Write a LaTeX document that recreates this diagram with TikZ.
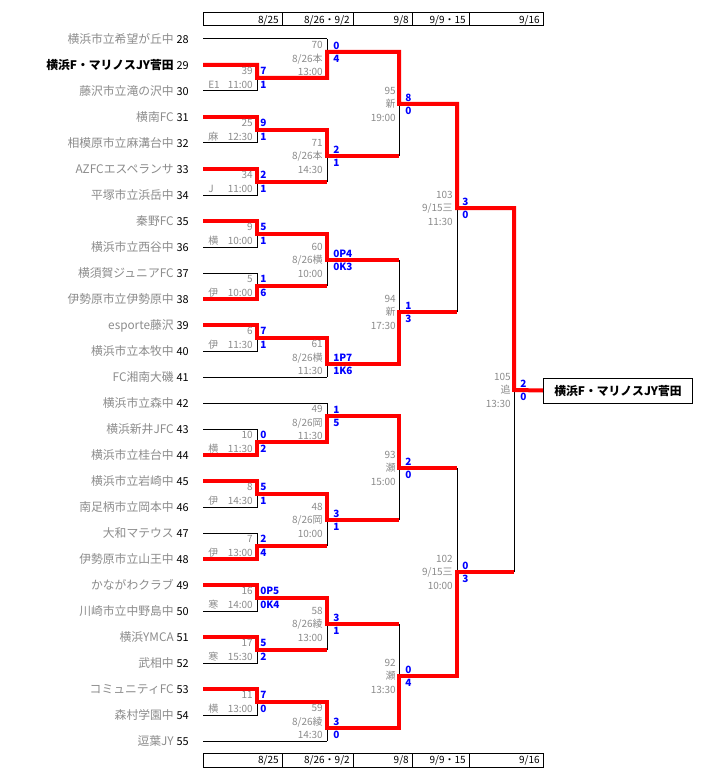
\documentclass[tikz,border=0pt]{standalone}
\usepackage{fontspec}
\setmainfont{Noto Sans CJK JP}
\definecolor{lgray}{RGB}{140,140,140}
\definecolor{wred}{RGB}{255,0,0}
\definecolor{sblue}{RGB}{0,0,255}
\newcommand\tm[4]{%
  \node[tname,#4] (t#3) at (174,#1) {#2};
  \node[tnum] (n#3) at (189,#1) {#3};}
\newcommand\mo[6]{%
  \node[lbl] (r#2a) at (253,#1-7) {#2};
  \node[lbl,anchor=west] (r#2b) at (208,#1+7) {#3};
  \node[lbl] (r#2c) at (253,#1+7) {#4};
  \node[sc] (r#2s) at (260,#1-7) {#5};
  \node[sc] (r#2t) at (260,#1+7) {#6};}
\newcommand\mt[9]{%
  \node[lbl] (m#1a) at (#2,#4-13.5) {#1};
  \node[lbl] (m#1b) at (#2,#4) {#6};
  \node[lbl] (m#1c) at (#2,#4+13.5) {#7};
  \node[sc] (m#1s) at (#3,#5-6.5) {#8};
  \node[sc] (m#1t) at (#3,#5+6.5) {#9};}
\begin{document}
\begin{tikzpicture}[x=0.75pt,y=-0.75pt,
  ln/.style={line width=0.75pt,black},
  win/.style={line width=3pt,wred,line join=miter,line cap=butt},
  tname/.style={font=\fontsize{8.85}{10}\selectfont,text=lgray,inner sep=0pt,anchor=east,text height=7.8pt,text depth=1.05pt},
  tnum/.style={font=\fontsize{8.2}{10}\selectfont,text=black,inner sep=0pt,anchor=east,text height=7.2pt,text depth=1pt},
  lbl/.style={font=\fontsize{7.5}{9}\selectfont,text=lgray,inner sep=0pt,anchor=east,text height=6.6pt,text depth=0.9pt},
  sc/.style={font=\fontsize{7.5}{9}\selectfont\bfseries,text=sblue,inner sep=0pt,anchor=west,text height=6.6pt,text depth=0.9pt},
  hdr/.style={font=\fontsize{7.5}{9}\selectfont,text=black,inner sep=0pt,anchor=east,text height=6.6pt,text depth=0.9pt},
  champ/.style={font=\fontsize{8.85}{10}\selectfont\bfseries,text=black,inner sep=0pt,text height=7.8pt,text depth=1.05pt}
]
\fill[white] (0,0) rectangle (705,781);
\useasboundingbox (0,0) rectangle (705,781);
% headers
\foreach \t/\b in {13/26,753/767}{
  \draw[ln] (203,\t) rectangle (543,\b);
  \foreach \x in {282,353,412,469} \draw[ln] (\x,\t) -- (\x,\b);
}
\node[hdr] (h1) at (279,19.5) {8/25};
\node[hdr] (h2) at (350,19.5) {8/26・9/2};
\node[hdr] (h3) at (409,19.5) {9/8};
\node[hdr] (h4) at (466,19.5) {9/9・15};
\node[hdr] (h5) at (540,19.5) {9/16};
\node[hdr] (f1) at (279,760) {8/25};
\node[hdr] (f2) at (350,760) {8/26・9/2};
\node[hdr] (f3) at (409,760) {9/8};
\node[hdr] (f4) at (466,760) {9/9・15};
\node[hdr] (f5) at (540,760) {9/16};
% black bracket
\foreach \y in {39,377,403,741} \draw[ln] (203,\y) -- (327,\y);
\foreach \a in {65,117,169,221,273,325,429,481,533,585,637,689}{
  \draw[ln] (203,\a) -- (257,\a) -- (257,\a+26) -- (203,\a+26);
  \draw[ln] (257,\a+13) -- (327,\a+13);
}
\foreach \a/\b in {39/78,130/182,234/286,338/377,403/442,494/546,598/650,702/741}
  \draw[ln] (327,\a) -- (327,\b);
\foreach \y in {52,156,260,364,416,520,624,728} \draw[ln] (327,\y) -- (399,\y);
\foreach \a/\b in {52/156,260/364,416/520,624/728} \draw[ln] (399,\a) -- (399,\b);
\foreach \y in {104,312,468,676} \draw[ln] (399,\y) -- (457,\y);
\foreach \a/\b in {104/312,468/676} \draw[ln] (457,\a) -- (457,\b);
\foreach \y in {208,572} \draw[ln] (457,\y) -- (514,\y);
\draw[ln] (514,208) -- (514,572);
% winner box
\node[champ,draw=black,line width=0.75pt,minimum width=149*0.75pt,minimum height=25*0.75pt,anchor=west] (champ) at (543,390.5) {横浜F・マリノスJY菅田};
% red paths
\draw[win] (203,65)--(257,65)--(257,78)--(327,78)--(327,52)--(399,52)--(399,104)--(457,104)--(457,208)--(514,208)--(514,390)--(champ.west);
\draw[win] (203,117)--(257,117)--(257,130)--(327,130)--(327,156)--(399,156);
\draw[win] (203,169)--(257,169)--(257,182)--(327,182);
\draw[win] (203,221)--(257,221)--(257,234)--(327,234)--(327,260)--(399,260);
\draw[win] (203,299)--(257,299)--(257,286)--(327,286);
\draw[win] (203,325)--(257,325)--(257,338)--(327,338)--(327,364)--(399,364)--(399,312)--(457,312);
\draw[win] (203,455)--(257,455)--(257,442)--(327,442)--(327,416)--(399,416)--(399,468)--(457,468);
\draw[win] (203,481)--(257,481)--(257,494)--(327,494)--(327,520)--(399,520);
\draw[win] (203,559)--(257,559)--(257,546)--(327,546);
\draw[win] (203,585)--(257,585)--(257,598)--(327,598)--(327,624)--(399,624);
\draw[win] (203,637)--(257,637)--(257,650)--(327,650);
\draw[win] (203,689)--(257,689)--(257,702)--(327,702)--(327,728)--(399,728)--(399,676)--(457,676)--(457,572)--(514,572);
% teams
\tm{39}{横浜市立希望が丘中}{28}{}
\tm{65}{横浜F・マリノスJY菅田}{29}{font=\fontsize{8.85}{10}\selectfont\bfseries,text=black}
\tm{91}{藤沢市立滝の沢中}{30}{}
\tm{117}{横南FC}{31}{}
\tm{143}{相模原市立麻溝台中}{32}{}
\tm{169}{AZFCエスペランサ}{33}{}
\tm{195}{平塚市立浜岳中}{34}{}
\tm{221}{秦野FC}{35}{}
\tm{247}{横浜市立西谷中}{36}{}
\tm{273}{横須賀ジュニアFC}{37}{}
\tm{299}{伊勢原市立伊勢原中}{38}{}
\tm{325}{esporte藤沢}{39}{}
\tm{351}{横浜市立本牧中}{40}{}
\tm{377}{FC湘南大磯}{41}{}
\tm{403}{横浜市立森中}{42}{}
\tm{429}{横浜新井JFC}{43}{}
\tm{455}{横浜市立桂台中}{44}{}
\tm{481}{横浜市立岩崎中}{45}{}
\tm{507}{南足柄市立岡本中}{46}{}
\tm{533}{大和マテウス}{47}{}
\tm{559}{伊勢原市立山王中}{48}{}
\tm{585}{かながわクラブ}{49}{}
\tm{611}{川崎市立中野島中}{50}{}
\tm{637}{横浜YMCA}{51}{}
\tm{663}{武相中}{52}{}
\tm{689}{コミュニティFC}{53}{}
\tm{715}{森村学園中}{54}{}
\tm{741}{逗葉JY}{55}{}
% round 1
\mo{78}{39}{E1}{11:00}{7}{1}
\mo{130}{25}{麻}{12:30}{9}{1}
\mo{182}{34}{J}{11:00}{2}{1}
\mo{234}{9}{横}{10:00}{5}{1}
\mo{286}{5}{伊}{10:00}{1}{6}
\mo{338}{6}{伊}{11:30}{7}{1}
\mo{442}{10}{横}{11:30}{0}{2}
\mo{494}{8}{伊}{14:30}{5}{1}
\mo{546}{7}{伊}{13:00}{2}{4}
\mo{598}{16}{寒}{14:00}{0P5}{0K4}
\mo{650}{17}{寒}{15:30}{5}{2}
\mo{702}{11}{横}{13:00}{7}{0}
% round 2
\mt{70}{323}{333}{58.5}{52}{8/26本}{13:00}{0}{4}
\mt{71}{323}{333}{156}{156}{8/26本}{14:30}{2}{1}
\mt{60}{323}{333}{260}{260}{8/26横}{10:00}{0P4}{0K3}
\mt{61}{323}{333}{357.5}{364}{8/26横}{11:30}{1P7}{1K6}
\mt{49}{323}{333}{422.5}{416}{8/26岡}{11:30}{1}{5}
\mt{48}{323}{333}{520}{520}{8/26岡}{10:00}{3}{1}
\mt{58}{323}{333}{624}{624}{8/26綾}{13:00}{3}{1}
\mt{59}{323}{333}{721.5}{728}{8/26綾}{14:30}{3}{0}
% round 3
\mt{95}{396}{405}{104}{104}{新}{19:00}{8}{0}
\mt{94}{396}{405}{312}{312}{新}{17:30}{1}{3}
\mt{93}{396}{405}{468}{468}{瀬}{15:00}{2}{0}
\mt{92}{396}{405}{676}{676}{瀬}{13:30}{0}{4}
% semi-finals
\mt{103}{453}{462}{208}{208}{9/15三}{11:30}{3}{0}
\mt{102}{453}{462}{572}{572}{9/15三}{10:00}{0}{3}
% final
\mt{105}{511}{520}{390}{390}{追}{13:30}{2}{0}
\end{tikzpicture}
\end{document}
